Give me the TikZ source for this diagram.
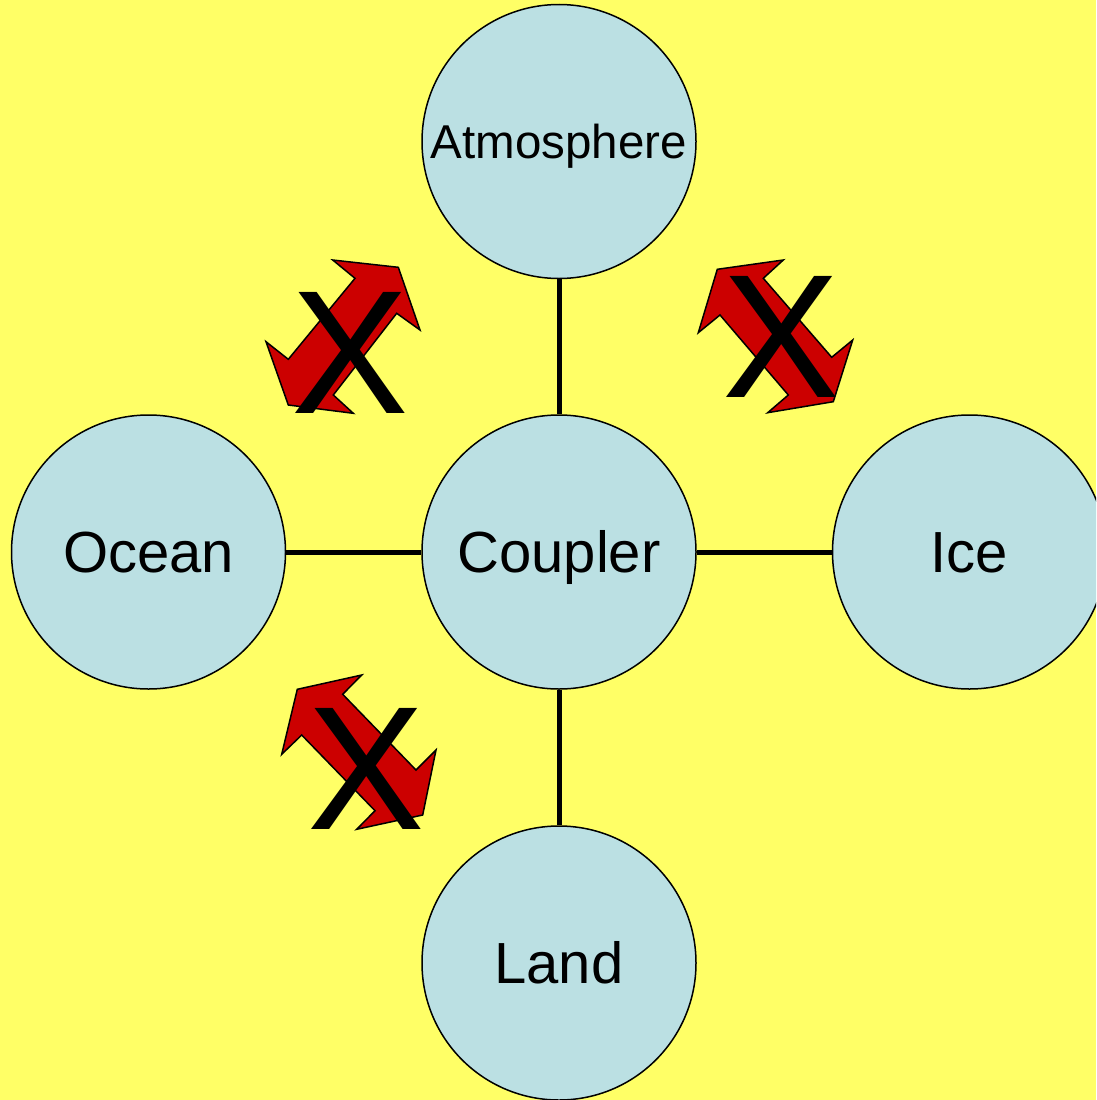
\documentclass[tikz,border=0pt]{standalone}
\usepackage{fontspec}
\setmainfont{Liberation Sans}
\definecolor{bgyellow}{HTML}{FFFF66}
\definecolor{nodeblue}{HTML}{BBE0E3}
\definecolor{arrowred}{HTML}{CC0000}
\begin{document}
\begin{tikzpicture}[x=1pt,y=-1pt,
  comp/.style={circle,draw=black,line width=1.5pt,fill=nodeblue,minimum size=274pt,inner sep=0pt,
    font=\fontsize{58}{60}\selectfont,text height=41.5pt,text depth=0pt},
  conn/.style={line width=5pt,draw=black},
  crossarrow/.style={draw=black,line width=1.5pt,fill=arrowred,line join=miter},
  crossx/.style={inner sep=0pt,font=\fontsize{176}{180}\selectfont,text height=126pt,text depth=0pt}]
\clip (0,0) rectangle (1096,1100);
\fill[bgyellow] (0,0) rectangle (1096,1100);

\node[comp,font=\fontsize{47.5}{50}\selectfont,text height=34pt] (atm) at (559,141.5) {Atmosphere};
\node[comp] (cpl) at (559,552) {Coupler};
\node[comp] (ocn) at (148.5,552) {Ocean};
\node[comp] (ice) at (969.5,552) {Ice};
\node[comp] (lnd) at (559,963) {Land};

\draw[conn] (atm) -- (cpl);
\draw[conn] (ocn) -- (cpl);
\draw[conn] (cpl) -- (ice);
\draw[conn] (cpl) -- (lnd);

\draw[crossarrow] (332.7,260) -- (398.3,267.3) -- (420,330) -- (396.7,313.3) -- (333.3,395) -- (353.3,413.3) -- (288.3,405) -- (266,341.7) -- (288.3,359.3) -- (355,278.3) -- cycle;
\draw[crossarrow] (717.3,269.3) -- (783.3,260) -- (763.3,278.3) -- (831.7,357.3) -- (852.7,340) -- (833.3,401.7) -- (767.7,412.7) -- (788.3,395) -- (720,315) -- (698.3,332.7) -- cycle;
\draw[crossarrow] (297.3,689.3) -- (361.7,675) -- (342.7,694.3) -- (416,770) -- (436,750) -- (422.7,815) -- (356.7,829.3) -- (375,810.7) -- (301.7,735) -- (281.7,754.3) -- cycle;

\node[crossx] (x1) at (350,350) {X};
\node[crossx] (x2) at (781,334) {X};
\node[crossx] (x3) at (366,766) {X};
\end{tikzpicture}
\end{document}
